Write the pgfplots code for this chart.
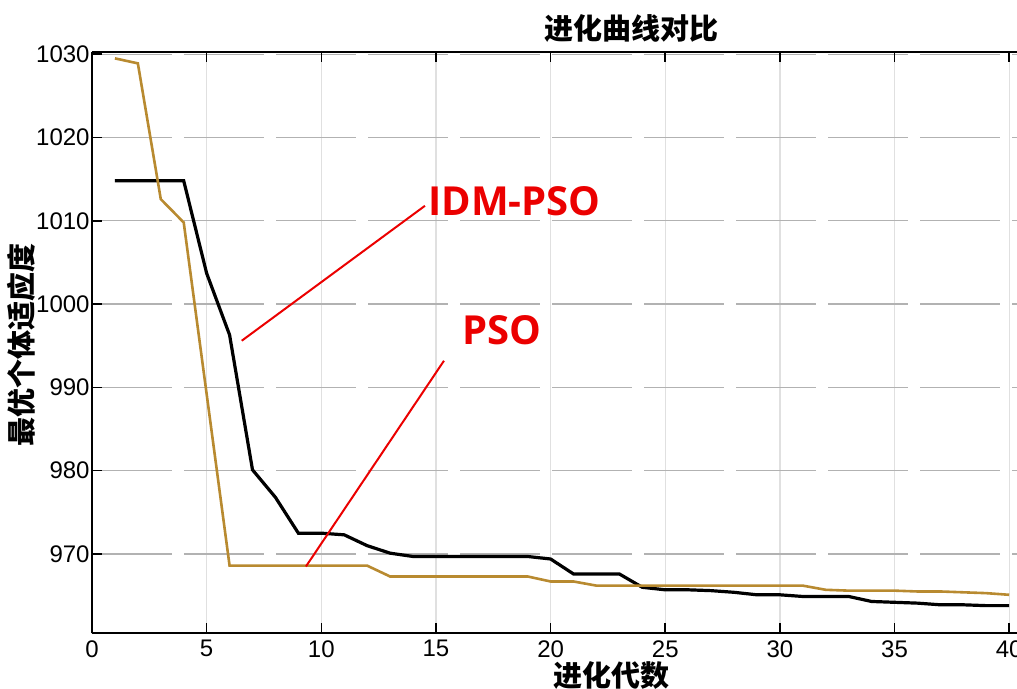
\documentclass[border=0pt]{standalone}
\usepackage{fontspec}
\setmainfont{Liberation Sans}
\newfontfamily\cjk{Noto Sans CJK SC}
\newfontfamily\osans{Open Sans}
\usepackage{pgfplots}
\pgfplotsset{compat=1.18}
\definecolor{psogold}{RGB}{184,138,48}
\definecolor{annred}{RGB}{235,0,0}

\pgfplotstableread{
x y
1 1014.8
2 1014.8
3 1014.8
4 1014.8
5 1003.7
6 996.3
7 980.1
8 976.8
9 972.5
10 972.5
11 972.3
12 971.0
13 970.1
14 969.7
15 969.7
16 969.7
17 969.7
18 969.7
19 969.7
20 969.4
21 967.6
22 967.6
23 967.6
24 966.0
25 965.7
26 965.7
27 965.6
28 965.4
29 965.1
30 965.1
31 964.9
32 964.9
33 964.9
34 964.3
35 964.2
36 964.1
37 963.9
38 963.9
39 963.8
40 963.8
}\idmpso

\pgfplotstableread{
x y
1 1029.5
2 1028.9
3 1012.6
4 1009.8
5 989.2
6 968.6
7 968.6
8 968.6
9 968.6
10 968.6
11 968.6
12 968.6
13 967.3
14 967.3
15 967.3
16 967.3
17 967.3
18 967.3
19 967.3
20 966.7
21 966.7
22 966.2
23 966.2
24 966.2
25 966.2
26 966.2
27 966.2
28 966.2
29 966.2
30 966.2
31 966.2
32 965.7
33 965.6
34 965.6
35 965.6
36 965.5
37 965.5
38 965.4
39 965.3
40 965.1
}\pso

\begin{document}
\begin{tikzpicture}
\useasboundingbox (-46pt,-27.85pt) rectangle (462.5pt,316.65pt);
\begin{axis}[
  at={(0,0)}, anchor=south west,
  scale only axis, width=462.5pt, height=290.5pt,
  xmin=0, xmax=40.34, ymin=960.48, ymax=1030.23,
  axis x line*=box, axis y line*=left,
  tick align=inside,
  major tick length=5pt,
  xtick={0,5,...,40}, ytick={970,980,...,1030},
  ticklabel style={font=\fontsize{12}{14}\selectfont},
  /pgf/number format/assume math mode=true,
  /pgf/number format/1000 sep={},
  yticklabel style={inner sep=1pt},
  grid=major,
  x grid style={black!12, line width=0.6pt},
  y grid style={black!30, line width=0.7pt, dash pattern=on 40pt off 6pt},
  axis line style={line width=0.8pt},
  tick style={black, line width=0.8pt},
  clip=false,
]
\addplot[black, line width=1.6pt] table[x=x,y=y] {\idmpso};
\addplot[psogold, line width=1.3pt] table[x=x,y=y] {\pso};
\addplot[annred, line width=1pt] coordinates {(6.53,995.6) (14.52,1011.8)};
\addplot[annred, line width=1pt] coordinates {(9.33,968.5) (15.35,993.2)};
\node[anchor=west, inner sep=0pt, text=annred, font=\osans\bfseries\fontsize{20}{24}\selectfont] at (axis cs:14.65,1012.3) {IDM-PSO};
\node[anchor=west, inner sep=0pt, text=annred, font=\osans\bfseries\fontsize{20}{24}\selectfont] at (axis cs:16.12,996.9) {PSO};
\node[font=\cjk\bfseries\fontsize{14.5}{16}\selectfont, yshift=12.15pt] at (rel axis cs:0.583,1) {进化曲线对比};
\node[font=\cjk\bfseries\fontsize{14.5}{16}\selectfont, yshift=-20.85pt] at (rel axis cs:0.562,0) {进化代数};
\node[font=\cjk\bfseries\fontsize{14.5}{16}\selectfont, rotate=90, xshift=0pt, yshift=35.5pt] at (rel axis cs:0,0.496) {最优个体适应度};
\end{axis}
\end{tikzpicture}
\end{document}
